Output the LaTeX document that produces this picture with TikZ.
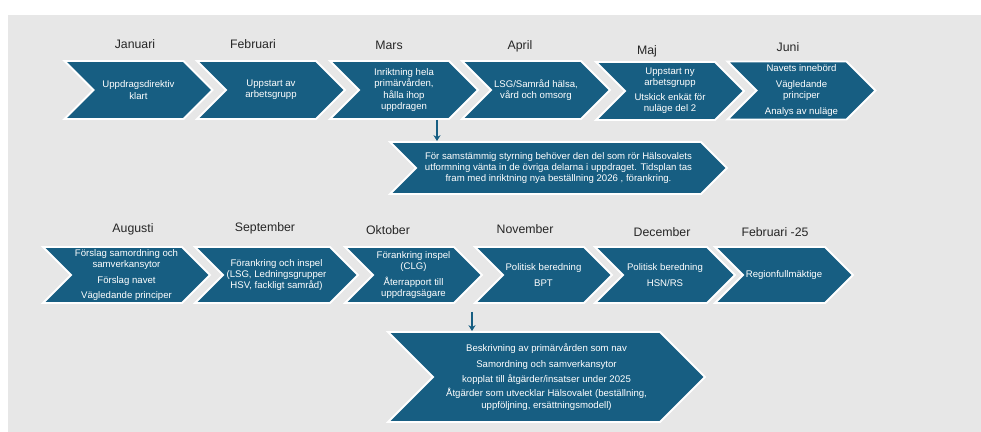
\documentclass[tikz,border=0pt]{standalone}
\usepackage{fontspec}
\setmainfont{Liberation Sans}
\usetikzlibrary{shapes}
\usetikzlibrary{arrows.meta}
\definecolor{plan_blue}{RGB}{23, 94, 130}
\definecolor{plan_grey}{RGB}{231, 231, 231}
\definecolor{plan_text}{RGB}{38, 38, 38}
\tikzstyle{chev}=[signal,signal to=east,signal from=west,signal pointer angle=90,
  fill=plan_blue,draw=white,line width=1.6pt,text=white,align=center,inner sep=0pt,
  font=\fontsize{8.2}{9.6}\selectfont]
\tikzstyle{topc}=[chev,minimum width=4.44cm,minimum height=1.74cm]
\tikzstyle{botc}=[chev,minimum height=1.68cm]
\tikzstyle{mon}=[anchor=base,text=plan_text,font=\fontsize{10.5}{12}\selectfont]
\tikzstyle{arr}=[draw=plan_blue,line width=1pt,-{Stealth[length=5pt,width=6pt]}]

\begin{document}
\begin{tikzpicture}[x=0.03cm,y=-0.03cm]
        \useasboundingbox (0,0) rectangle (981,432);
        \fill [plan_grey] (8,15) rectangle (981,432);
        % months
        \node [style=mon] (m1) at (135,49) {Januari};
        \node [style=mon] (m2) at (253,49) {Februari};
        \node [style=mon] (m3) at (389,50) {Mars};
        \node [style=mon] (m4) at (520,50) {April};
        \node [style=mon] (m5) at (647,55) {Maj};
        \node [style=mon] (m6) at (788,52) {Juni};
        \node [style=mon] (m8) at (133,233) {Augusti};
        \node [style=mon] (m9) at (265,232) {September};
        \node [style=mon] (m10) at (388,235) {Oktober};
        \node [style=mon] (m11) at (525,234) {November};
        \node [style=mon] (m12) at (662,237) {December};
        \node [style=mon] (m14) at (775,237) {Februari -25};
        % first row
        \node [style=topc] (jan) at (138.5,90) {Uppdragsdirektiv\\klart};
        \node [style=topc] (feb) at (271,90) {Uppstart av\\arbetsgrupp};
        \node [style=topc] (mar) at (404,90) {Inriktning hela\\primärvården,\\hålla ihop\\uppdragen};
        \node [style=topc] (apr) at (536,90) {LSG/Samråd hälsa,\\vård och omsorg};
        \node [style=topc] (maj) at (670,91) {Uppstart ny\\arbetsgrupp\\[3pt]Utskick enkät för\\nuläge del 2};
        \node [style=topc] (jun) at (801.5,90.5) {Navets innebörd\\[4pt]Vägledande\\principer\\[3.5pt]Analys av nuläge};
        \node [style=chev,minimum width=10.11cm,minimum height=1.56cm] (n1) at (558.5,168)
          {För samstämmig styrning behöver den del som rör Hälsovalets\\utformning vänta in de övriga delarna i uppdraget. Tidsplan tas\\fram med inriktning nya beställning 2026 , förankring.};
        % second row
        \node [style=botc,minimum width=5.01cm] (aug) at (126.5,275) {Förslag samordning och\\samverkansytor\\[4pt]Förslag navet\\[3.5pt]Vägledande principer};
        \node [style=botc,minimum width=4.89cm] (sep) at (276.5,275) {Förankring och inspel\\(LSG, Ledningsgrupper\\HSV, fackligt samråd)};
        \node [style=botc,minimum width=4.11cm] (okt) at (413.5,275) {Förankring inspel\\(CLG)\\[4pt]Återrapport till\\uppdragsägare};
        \node [style=botc,minimum width=4.11cm] (nov) at (543.5,275) {Politisk beredning\\[4.5pt]BPT};
        \node [style=botc,minimum width=4.2cm] (dec) at (665,275) {Politisk beredning\\[4.5pt]HSN/RS};
        \node [style=botc,minimum width=4.14cm] (f25) at (784,275) {Regionfullmäktige};
        \node [style=chev,minimum width=9.51cm,minimum height=2.7cm] (n2) at (546.5,377)
          {Beskrivning av primärvården som nav\\[4pt]Samordning och samverkansytor\\[3pt]kopplat till åtgärder/insatser under 2025\\[3pt]Åtgärder som utvecklar Hälsovalet (beställning,\\uppföljning, ersättningsmodell)};
        \coordinate (a1) at (437,120);
        \coordinate (a2) at (472,312);
        \draw [style=arr] (a1) to (a1 |- n1.north);
        \draw [style=arr] (a2) to (a2 |- n2.north);
    \end{tikzpicture}
\end{document}
